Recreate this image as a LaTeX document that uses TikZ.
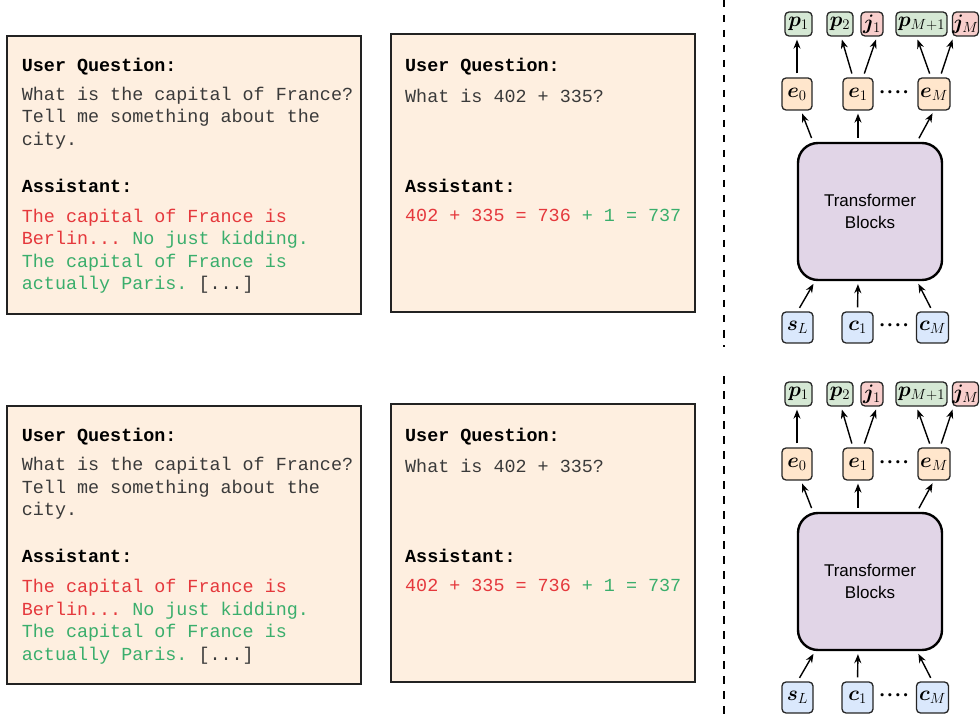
\RequirePackage{fix-cm}
\documentclass[tikz,border=0pt]{standalone}
\usepackage{amsmath,bm}
\usepackage{fontspec}
\setmonofont{Liberation Mono}
\newfontfamily\blocksfont{Liberation Sans}
\usetikzlibrary{arrows.meta}

\definecolor{cardfill}{HTML}{FEEFE0}
\definecolor{cardline}{HTML}{222222}
\definecolor{asktext}{HTML}{3A3A3A}
\definecolor{wrongred}{HTML}{E5383C}
\definecolor{rightgreen}{HTML}{3AAE6C}
\definecolor{pfill}{HTML}{D5E8D4}
\definecolor{jfill}{HTML}{F8CECC}
\definecolor{efill}{HTML}{FFE6CC}
\definecolor{infill}{HTML}{DAE8FC}
\definecolor{tbfill}{HTML}{E1D5E7}

\newcommand{\fourdots}{${\bm\cdot}\mkern1mu{\bm\cdot}\mkern1mu{\bm\cdot}\mkern1mu{\bm\cdot}$}

\tikzset{
  card/.style={draw=cardline, line width=1.4pt, fill=cardfill},
  chat/.style={anchor=base west, inner sep=0pt,
    font=\fontsize{18.4}{22.4}\selectfont\ttfamily},
  heading/.style={chat, font=\fontsize{18.4}{22.4}\selectfont\ttfamily\bfseries},
  tok/.style={draw=black!85, line width=1.3pt, rounded corners=4pt, inner sep=0pt,
    minimum height=24pt, font=\fontsize{21}{21}\selectfont},
  emb/.style={tok, minimum width=30pt, minimum height=32pt, fill=efill},
  inp/.style={tok, minimum width=31pt, minimum height=31pt, fill=infill},
  ptok/.style={tok, fill=pfill},
  jtok/.style={tok, fill=jfill},
  blocks/.style={draw=black, line width=2.4pt, rounded corners=20pt, fill=tbfill,
    minimum width=144pt, minimum height=137pt, align=center,
    font=\fontsize{17}{22}\selectfont\blocksfont},
  arr/.style={-{Stealth[length=9pt,width=7pt]}, line width=1.4pt,
    shorten <=4pt, shorten >=3pt},
  dotsnode/.style={inner sep=0pt, font=\fontsize{21}{21}\selectfont},
  divider/.style={line width=2pt, dash pattern=on 7.5pt off 7.5pt}
}

\begin{document}
\begin{tikzpicture}[x=1pt, y=-1pt]
\useasboundingbox (0,0) rectangle (980,719);

% dashed separator between the examples and the model sketches
\draw[divider] (723.5,0) -- (723.5,347);
\draw[divider] (723.5,376) -- (723.5,719);

\foreach \i/\dy in {1/0, 2/370} {
  \begin{scope}[yshift=-\dy pt]
    % ---- chat example: capital of France
    \draw[card] (7,36) rectangle (361,314);
    \node[heading] (uq-a\i) at (21.7,71.5) {User Question:};
    \node[chat, text=asktext] (qa1-\i) at (21.7,100.5) {What is the capital of France?};
    \node[chat, text=asktext] (qa2-\i) at (21.7,123) {Tell me something about the};
    \node[chat, text=asktext] (qa3-\i) at (21.7,145.5) {city.};
    \node[heading] (as-a\i) at (21.7,192.5) {Assistant:};
    \node[chat, text=wrongred] (ra1-\i) at (21.7,222.5) {The capital of France is};
    \node[chat] (ra2-\i) at (21.7,245)
      {\color{wrongred}Berlin... \color{rightgreen}No just kidding.};
    \node[chat, text=rightgreen] (ra3-\i) at (21.7,267.5) {The capital of France is};
    \node[chat] (ra4-\i) at (21.7,290)
      {\color{rightgreen}actually Paris. \color{asktext}[...]};

    % ---- chat example: arithmetic
    \draw[card] (391,34) rectangle (695,312);
    \node[heading] (uq-b\i) at (405,71.5) {User Question:};
    \node[chat, text=asktext] (qb-\i) at (405,102.5) {What is 402 + 335?};
    \node[heading] (as-b\i) at (405,192.5) {Assistant:};
    \node[chat] (rb-\i) at (405,221.5)
      {\color{wrongred}402 + 335 = 736 \color{rightgreen}+ 1 = 737};

    % ---- model: inputs, transformer, embeddings, predictions
    \node[blocks] (tb\i) at (870,211.5) {Transformer\\Blocks};

    \node[inp] (sL\i) at (797.5,327.5) {$\bm{s}_L$};
    \node[inp] (c1\i) at (857.5,327.5) {$\bm{c}_1$};
    \node[inp, minimum width=32pt] (cM\i) at (932.5,327.5) {$\bm{c}_M$};
    \node[dotsnode] (dl\i) at (894,326) {\fourdots};

    \node[emb] (e0\i) at (797,94) {$\bm{e}_0$};
    \node[emb] (e1\i) at (858,94) {$\bm{e}_1$};
    \node[emb, minimum width=32pt] (eM\i) at (934,94) {$\bm{e}_M$};
    \node[dotsnode] (du\i) at (894,93) {\fourdots};

    \node[ptok, minimum width=27pt] (p1\i) at (798.5,24) {$\bm{p}_1$};
    \node[ptok, minimum width=26pt] (p2\i) at (840,24) {$\bm{p}_2$};
    \node[jtok, minimum width=22pt] (j1\i) at (872,24) {$\bm{j}_1$};
    \node[ptok, minimum width=51pt] (pM\i) at (921.5,24) {$\bm{p}_{M+1}$};
    \node[jtok, minimum width=25pt] (jM\i) at (965.5,24) {$\bm{j}_M$};

    % inputs into the transformer
    \draw[arr] (sL\i.north) -- ([xshift=-55pt]tb\i.south);
    \draw[arr] (c1\i.north) -- ([xshift=-12pt]tb\i.south);
    \draw[arr] (cM\i.north) -- ([xshift=47pt]tb\i.south);
    % transformer into embeddings
    \draw[arr] ([xshift=-57pt]tb\i.north) -- ([xshift=4pt]e0\i.south);
    \draw[arr] ([xshift=-12pt]tb\i.north) -- (e1\i.south);
    \draw[arr] ([xshift=47pt]tb\i.north) -- (eM\i.south);
    % embeddings into predictions
    \draw[arr] (e0\i.north) -- ([xshift=-1.5pt]p1\i.south);
    \draw[arr] ([xshift=-5pt]e1\i.north) -- ([xshift=1pt]p2\i.south);
    \draw[arr] ([xshift=5pt]e1\i.north) -- ([xshift=5pt]j1\i.south);
    \draw[arr] ([xshift=-3pt]eM\i.north) -- ([xshift=-5pt]pM\i.south);
    \draw[arr] ([xshift=6pt]eM\i.north) -- ([xshift=-12pt]jM\i.south);
  \end{scope}
}
\end{tikzpicture}
\end{document}
